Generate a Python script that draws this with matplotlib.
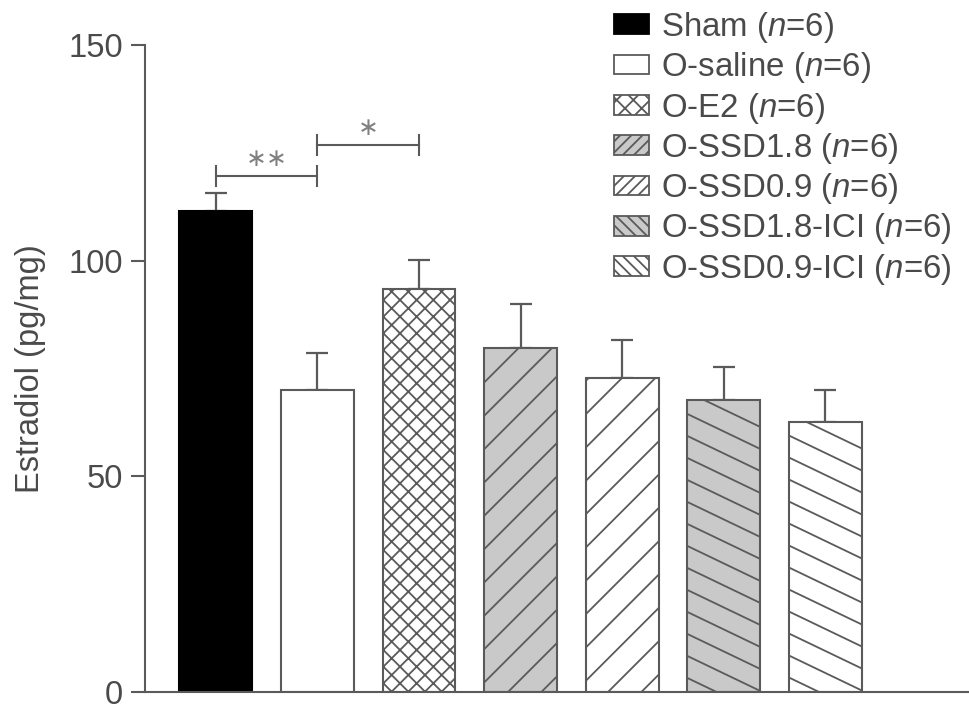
import matplotlib
matplotlib.use("Agg")
import matplotlib.pyplot as plt
from matplotlib.patches import Patch
from matplotlib.lines import Line2D
import numpy as np

plt.rcParams['font.family'] = ['Liberation Sans', 'DejaVu Sans']
plt.rcParams['mathtext.fontset'] = 'custom'
plt.rcParams['mathtext.it'] = 'Liberation Sans:italic'
plt.rcParams['mathtext.rm'] = 'Liberation Sans'
plt.rcParams['hatch.linewidth'] = 1.3

groups = ["Sham", "O-saline", "O-E2", "O-SSD1.8", "O-SSD0.9", "O-SSD1.8-ICI", "O-SSD0.9-ICI"]
n_per_group = [6, 6, 6, 6, 6, 6, 6]
means = [111.5, 70.0, 93.4, 79.8, 72.9, 67.7, 62.7]
errors = [4.2, 8.6, 6.8, 10.2, 8.6, 7.7, 7.2]
yticks = [0, 50, 100, 150]
ylabel = "Estradiol (pg/mg)"
sig_pairs = [(0, 1, 119.7, "**"), (1, 2, 126.8, "*")]

fills = ["black", "white", "white", "#c9c9c9", "white", "#c9c9c9", "white"]
hatches = [None, None, "xx", "/", "/", None, None]
legend_hatches = [None, None, "xx", "///", "///", "\\\\\\", "\\\\\\"]
custom_hatch = [False, False, False, False, False, True, True]
edge = "#5a5a5a"
txt = "#4a4a4a"

fig = plt.figure(figsize=(9.69, 7.14), dpi=100)
ax = fig.add_axes([145/969, 22/714, (969-145)/969, (692-45)/714])

x = np.arange(len(groups))
x_pos = x * 1.005
bars = []
for i in range(len(groups)):
    b = ax.bar(x_pos[i], means[i], width=0.72, color=fills[i],
               edgecolor=("black" if i == 0 else edge), linewidth=1.5,
               hatch=hatches[i], zorder=2)
    bars.append(b[0])
    ax.errorbar(x_pos[i], means[i], yerr=[[0], [errors[i]]], fmt='none',
                ecolor=edge, elinewidth=1.6, capsize=8, capthick=1.6, zorder=1)

ax.set_xlim(-0.70, 7.45)
ax.set_ylim(0, 150)

# custom shallow back-diagonal hatching for ICI bars
fig.canvas.draw()
for i, b in enumerate(bars):
    if not custom_hatch[i]:
        continue
    x0, x1 = b.get_x(), b.get_x() + b.get_width()
    p0 = ax.transData.transform((x0, 0))
    p1 = ax.transData.transform((x1, means[i]))
    spacing = 22.0
    slope = 0.48
    w = p1[0] - p0[0]
    yy = p1[1] + 8
    while yy > p0[1] - w:
        xs = [p0[0] - 5, p1[0] + 5]
        ys = [yy + 5 * slope, yy - (w + 5) * slope]
        ln = Line2D(xs, ys, transform=None, color=edge, linewidth=1.3, zorder=3)
        ax.add_artist(ln)
        ln.set_clip_path(b)
        yy -= spacing

# significance brackets
for a, bb, yv, s in sig_pairs:
    ax.plot([x_pos[a], x_pos[bb]], [yv, yv], color=edge, lw=1.5)
    ax.plot([x_pos[a], x_pos[a]], [yv - 2.3, yv + 2.3], color=edge, lw=1.5)
    ax.plot([x_pos[bb], x_pos[bb]], [yv - 2.3, yv + 2.3], color=edge, lw=1.5)
    ax.text((x_pos[a] + x_pos[bb]) / 2, yv + 1.2, s.replace("*", "\u2217"),
            ha='center', va='bottom', fontsize=18, color="#808080",
            family=['DejaVu Sans'])

for sp in ["top", "right"]:
    ax.spines[sp].set_visible(False)
ax.spines["left"].set_color(edge)
ax.spines["bottom"].set_color(edge)
ax.spines["left"].set_linewidth(1.5)
ax.spines["bottom"].set_linewidth(1.5)
ax.set_yticks(yticks)
ax.set_yticklabels([str(t) for t in yticks])
ax.tick_params(axis='y', direction='out', length=10, width=1.5, color=edge,
               labelsize=23.5, labelcolor=txt, pad=6)
ax.set_xticks([])
ax.set_ylabel(ylabel, fontsize=23.5, color=txt, labelpad=16)

handles = []
labels = []
for i, g in enumerate(groups):
    handles.append(Patch(facecolor=fills[i], edgecolor=("black" if i == 0 else edge),
                         hatch=legend_hatches[i], linewidth=1.3))
    labels.append(f"{g} ($n$={n_per_group[i]})")
leg = fig.legend(handles, labels, loc='upper left', bbox_to_anchor=(614/969, 1 - 10/714),
                 frameon=False, fontsize=23.8, handlelength=1.05, handleheight=0.54,
                 handletextpad=0.36, labelspacing=0.16, borderaxespad=0, borderpad=0)
for t in leg.get_texts():
    t.set_color(txt)

fig.savefig("out.png", dpi=100)
